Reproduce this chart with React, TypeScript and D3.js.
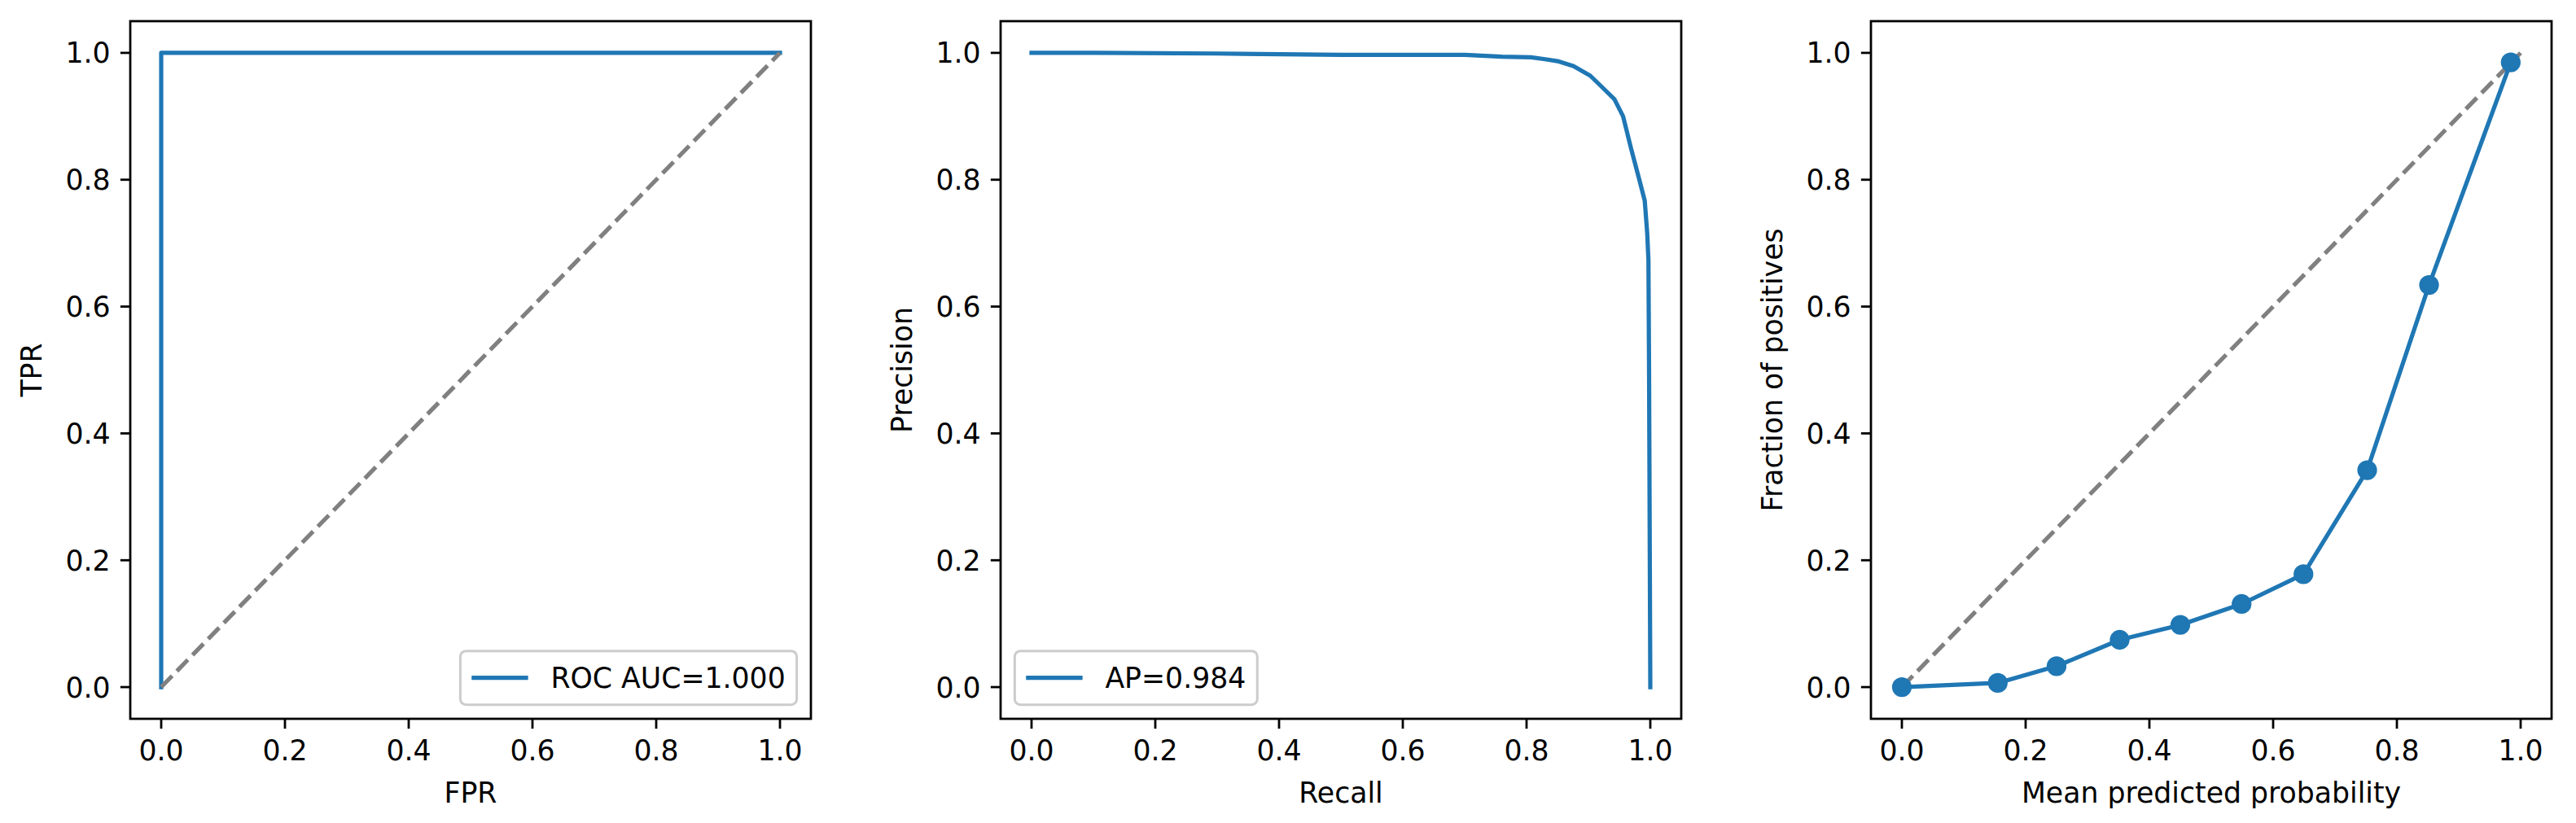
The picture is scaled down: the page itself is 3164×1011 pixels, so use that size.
import React, { useEffect, useRef } from "react";
import * as d3 from "d3";

// ---------- data ----------
const rocFpr = [0, 0, 1];
const rocTpr = [0, 1, 1];
const rocLabel = "ROC AUC=1.000";

const prRecall = [0, 0.1, 0.3, 0.5, 0.6, 0.7, 0.76, 0.807, 0.83, 0.85, 0.876, 0.903, 0.921, 0.942, 0.956, 0.969, 0.982, 0.991, 0.995, 0.997, 0.998, 1.0];
const prPrecision = [1.0, 1.0, 0.999, 0.997, 0.997, 0.997, 0.994, 0.993, 0.99, 0.987, 0.979, 0.964, 0.947, 0.927, 0.9, 0.849, 0.801, 0.767, 0.716, 0.673, 0.5, 0.0];
const prLabel = "AP=0.984";

const calMeanPred = [0.0, 0.155, 0.25, 0.352, 0.45, 0.549, 0.649, 0.752, 0.852, 0.984];
const calFracPos = [0.0, 0.0066, 0.033, 0.0745, 0.098, 0.131, 0.178, 0.342, 0.634, 0.985];

const tickValues = [0, 0.2, 0.4, 0.6, 0.8, 1.0];
const xLabels = ["FPR", "Recall", "Mean predicted probability"];
const yLabels = ["TPR", "Precision", "Fraction of positives"];

// ---------- style ----------
const W = 3164;
const H = 1011;
const FONT = "'DejaVu Sans', sans-serif";
const FS = 34.7;
const BLUE = "#1f77b4";
const LW = 5.2;
const SPINE = 2.78;
const TICKLEN = 12.15;
const PANEL_LEFTS = [160, 1229, 2298];
const PANEL_W = 836;
const TOP = 26;
const BOTTOM = 883;

export default function App() {
  const ref = useRef<SVGSVGElement>(null);

  useEffect(() => {
    const svg = d3.select(ref.current);
    svg.selectAll("*").remove();
    svg.append("rect").attr("width", W).attr("height", H).attr("fill", "#fff");

    const fmt = d3.format(".1f");

    PANEL_LEFTS.forEach((left, i) => {
      const x = d3.scaleLinear().domain([-0.05, 1.05]).range([left, left + PANEL_W]);
      const y = d3.scaleLinear().domain([-0.05, 1.05]).range([BOTTOM, TOP]);
      const g = svg.append("g");

      const clipId = `clip${i}`;
      svg
        .append("clipPath")
        .attr("id", clipId)
        .append("rect")
        .attr("x", left)
        .attr("y", TOP)
        .attr("width", PANEL_W)
        .attr("height", BOTTOM - TOP);

      const plot = g.append("g").attr("clip-path", `url(#${clipId})`);
      const line = d3
        .line<[number, number]>()
        .x((d) => x(d[0]))
        .y((d) => y(d[1]));

      const diag: [number, number][] = [
        [0, 0],
        [1, 1],
      ];

      if (i === 0) {
        plot
          .append("path")
          .attr("d", line(rocFpr.map((v, k) => [v, rocTpr[k]] as [number, number])))
          .attr("fill", "none")
          .attr("stroke", BLUE)
          .attr("stroke-width", LW)
          .attr("stroke-linejoin", "round")
          .attr("stroke-linecap", "square");
        plot
          .append("path")
          .attr("d", line(diag))
          .attr("fill", "none")
          .attr("stroke", "#808080")
          .attr("stroke-width", LW)
          .attr("stroke-dasharray", `${3.7 * LW} ${1.6 * LW}`);
      } else if (i === 1) {
        plot
          .append("path")
          .attr("d", line(prRecall.map((v, k) => [v, prPrecision[k]] as [number, number])))
          .attr("fill", "none")
          .attr("stroke", BLUE)
          .attr("stroke-width", LW)
          .attr("stroke-linejoin", "round")
          .attr("stroke-linecap", "square");
      } else {
        plot
          .append("path")
          .attr("d", line(diag))
          .attr("fill", "none")
          .attr("stroke", "#808080")
          .attr("stroke-width", LW)
          .attr("stroke-dasharray", `${3.7 * LW} ${1.6 * LW}`);
        const pts = calMeanPred.map((v, k) => [v, calFracPos[k]] as [number, number]);
        plot
          .append("path")
          .attr("d", line(pts))
          .attr("fill", "none")
          .attr("stroke", BLUE)
          .attr("stroke-width", LW)
          .attr("stroke-linejoin", "round");
        g.selectAll("circle.m")
          .data(pts)
          .enter()
          .append("circle")
          .attr("cx", (d) => x(d[0]))
          .attr("cy", (d) => y(d[1]))
          .attr("r", 10.4)
          .attr("fill", BLUE)
          .attr("stroke", BLUE)
          .attr("stroke-width", 3.47);
      }

      // spines
      g.append("rect")
        .attr("x", left)
        .attr("y", TOP)
        .attr("width", PANEL_W)
        .attr("height", BOTTOM - TOP)
        .attr("fill", "none")
        .attr("stroke", "#000")
        .attr("stroke-width", SPINE)
        .attr("stroke-linejoin", "miter");

      // x ticks
      tickValues.forEach((t) => {
        g.append("line")
          .attr("x1", x(t))
          .attr("x2", x(t))
          .attr("y1", BOTTOM)
          .attr("y2", BOTTOM + TICKLEN)
          .attr("stroke", "#000")
          .attr("stroke-width", SPINE);
        g.append("text")
          .attr("x", x(t))
          .attr("y", 934)
          .attr("text-anchor", "middle")
          .attr("font-family", FONT)
          .attr("font-size", FS)
          .attr("fill", "#000")
          .text(fmt(t));
        g.append("line")
          .attr("x1", left)
          .attr("x2", left - TICKLEN)
          .attr("y1", y(t))
          .attr("y2", y(t))
          .attr("stroke", "#000")
          .attr("stroke-width", SPINE);
        g.append("text")
          .attr("x", left - 24.3)
          .attr("y", y(t))
          .attr("dy", "0.36em")
          .attr("text-anchor", "end")
          .attr("font-family", FONT)
          .attr("font-size", FS)
          .attr("fill", "#000")
          .text(fmt(t));
      });

      // axis labels
      g.append("text")
        .attr("x", left + PANEL_W / 2)
        .attr("y", 986)
        .attr("text-anchor", "middle")
        .attr("font-family", FONT)
        .attr("font-size", FS)
        .attr("fill", "#000")
        .text(xLabels[i]);
      const cy = (TOP + BOTTOM) / 2;
      g.append("text")
        .attr("transform", `translate(${left - 109},${cy}) rotate(-90)`)
        .attr("text-anchor", "middle")
        .attr("font-family", FONT)
        .attr("font-size", FS)
        .attr("fill", "#000")
        .text(yLabels[i]);

      // legends
      if (i < 2) {
        const label = i === 0 ? rocLabel : prLabel;
        const lg = g.append("g");
        const txt = lg
          .append("text")
          .attr("font-family", FONT)
          .attr("font-size", FS)
          .attr("fill", "#000")
          .text(label);
        const tw = (txt.node() as SVGTextElement).getComputedTextLength();
        const pad = 0.4 * FS;
        const handleLen = 2.0 * FS;
        const handlePad = 0.8 * FS;
        const boxW = pad * 2 + handleLen + handlePad + tw;
        const boxH = 66;
        const axPad = 0.5 * FS;
        const bx = i === 0 ? left + PANEL_W - axPad - boxW : left + axPad;
        const by = BOTTOM - axPad - boxH;
        lg.insert("rect", "text")
          .attr("x", bx)
          .attr("y", by)
          .attr("width", boxW)
          .attr("height", boxH)
          .attr("rx", 0.2 * FS)
          .attr("ry", 0.2 * FS)
          .attr("fill", "rgba(255,255,255,0.8)")
          .attr("stroke", "#cccccc")
          .attr("stroke-width", 3.0);
        const midY = by + boxH / 2;
        lg.insert("line", "text")
          .attr("x1", bx + pad)
          .attr("x2", bx + pad + handleLen)
          .attr("y1", midY)
          .attr("y2", midY)
          .attr("stroke", BLUE)
          .attr("stroke-width", LW);
        txt
          .attr("x", bx + pad + handleLen + handlePad)
          .attr("y", midY)
          .attr("dy", "0.36em");
      }
    });
  }, []);

  return (
    <svg
      ref={ref}
      width={W}
      height={H}
      style={{ position: "absolute", left: 0, top: 0, display: "block" }}
    />
  );
}
